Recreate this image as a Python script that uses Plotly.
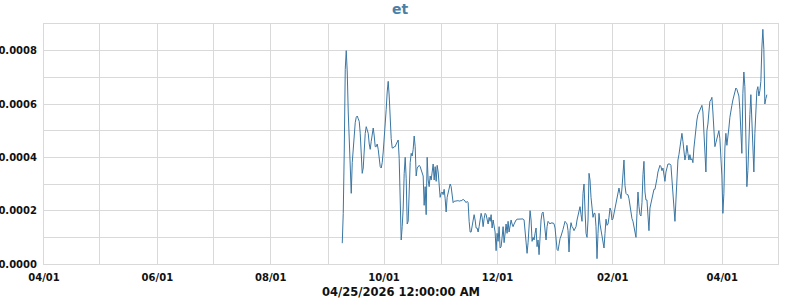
import pandas as pd
import plotly.graph_objects as go

# values in units of 1e-4, read left to right, one per ~13 hours
seg_sep = [0.78, 1.9, 4.2, 7.3, 8.0, 7.2, 5.7, 4.5, 3.6, 2.65, 3.8, 4.4, 4.9, 5.3, 5.5, 5.55,
           5.45, 5.35, 4.9, 4.2, 3.4, 3.6, 4.4, 4.9, 5.15, 5.0, 4.9, 4.5, 4.3, 4.6, 4.9, 5.1,
           4.8, 4.4, 4.4, 4.5, 4.3, 3.9, 3.65, 3.6, 3.8, 4.2, 4.7, 5.0, 5.8, 6.45, 6.85, 6.3,
           5.35, 4.7, 4.35, 4.35, 4.4, 4.4, 4.5, 4.6, 4.65, 3.95, 2.65, 0.9, 1.4, 2.1, 3.4,
           4.0, 3.2, 1.5]
seg_oct = [1.6, 3.0, 3.8, 4.15, 4.05, 4.3, 4.8, 4.4, 3.3, 3.6, 3.65, 3.7, 3.65, 3.5, 3.4, 3.3,
           2.2, 2.9, 1.85, 4.0, 3.15, 2.9, 3.3, 3.15, 3.45, 3.75, 3.15, 3.65, 3.1, 3.7, 3.45,
           3.0, 2.5, 2.65, 2.7, 2.6, 2.8, 2.45, 1.95, 2.5, 2.7, 2.9, 3.0, 2.9, 2.65, 2.3, 2.35,
           2.35, 2.35, 2.37, 2.38, 2.35, 2.38, 2.36, 2.4, 2.42, 2.4, 2.35, 2.3, 2.35, 2.3, 1.6,
           1.2, 1.2, 1.4, 1.65, 1.85, 1.65, 1.35, 1.35, 1.2, 1.4, 1.65]
seg_dec = [1.9, 1.75, 1.4, 1.7, 1.9, 1.85, 1.65, 1.5, 1.75, 1.6, 1.85, 1.35, 1.65, 1.4, 1.2,
           0.5, 1.15, 0.85, 1.4, 0.6, 0.65, 1.0, 1.4, 0.8, 1.25, 1.5, 1.15, 1.6, 1.2, 1.45,
           1.65, 1.5, 1.4, 1.5, 1.6, 1.65, 1.68, 1.68, 1.69, 1.69, 1.68, 1.68, 1.69, 1.65,
           1.25, 0.65, 0.4, 0.8, 1.75, 2.0, 1.65, 0.85, 1.0, 0.9, 1.15, 1.35, 0.65, 0.9, 0.35,
           1.15, 1.65, 1.9, 1.95, 1.65, 1.15, 0.9, 1.4, 1.6, 1.55, 1.5, 1.55, 1.52, 1.55]
seg_jan = [1.5, 1.35, 0.85, 0.55, 0.5, 0.85, 0.95, 1.05, 1.15, 1.3, 1.45, 1.6, 1.55, 1.5, 1.25,
           0.45, 1.25, 1.55, 1.4, 1.35, 1.25, 1.35, 1.4, 1.65, 1.85, 2.0, 2.15, 1.85, 1.6, 2.65,
           3.0, 2.0, 1.15, 1.0, 1.65, 3.4, 3.15, 2.5, 2.0, 1.75, 1.9, 1.9, 1.4, 0.2, 1.15, 1.9,
           1.5, 1.25, 1.15, 0.9, 0.6, 1.15, 1.68, 1.45, 1.5, 1.75, 2.1, 2.0, 1.65, 1.7, 1.9,
           2.0, 2.2, 2.4, 2.65, 2.85, 2.65, 2.45, 2.85, 3.45, 3.9, 2.95, 2.65]
seg_feb = [2.6, 2.6, 2.45, 2.2, 1.9, 1.7, 1.6, 1.4, 1.2, 1.0, 1.9, 2.7, 2.15, 1.85, 1.8, 2.3,
           3.35, 3.85, 2.7, 2.4, 2.4, 1.65, 1.25, 2.1, 2.3, 2.4, 2.6, 2.8, 2.8, 2.95, 3.2, 3.45,
           3.6, 3.7, 3.65, 3.5, 3.6, 3.3, 3.1, 3.45, 3.65, 3.75, 3.75, 3.75, 3.7, 3.2, 2.65,
           1.95, 1.6, 2.4, 3.45, 3.9, 4.1, 4.4, 4.7, 4.9, 4.6, 4.2, 3.9, 4.1, 4.45, 4.15, 3.9,
           4.1, 3.9, 3.95, 3.8, 4.35, 4.8, 5.15, 5.4, 5.6, 5.7]
seg_apr = [5.75, 5.9, 5.95, 5.7, 5.0, 4.0, 3.45, 5.0, 5.25, 5.7, 6.1, 6.15, 6.25, 5.7, 5.0,
           4.4, 4.55, 4.7, 4.85, 5.0, 4.7, 4.0, 3.3, 1.9, 2.65, 4.35, 4.9, 4.45, 4.7, 5.1, 5.5,
           5.85, 5.95, 6.15, 6.35, 6.45, 6.6, 6.55, 6.45, 6.3, 5.8, 4.9, 4.15, 6.4, 7.2, 6.65,
           4.5, 2.9, 3.5, 4.9, 5.6, 6.35, 5.5, 4.15, 3.45, 4.9, 6.1, 6.5, 6.65, 6.3, 6.5, 6.85,
           8.1, 8.8, 8.05, 6.0, 6.2, 6.35]

values_e4 = seg_sep + seg_oct + seg_dec + seg_jan + seg_feb + seg_apr
values = [v * 1e-4 for v in values_e4]
dates = pd.date_range(start="2025-09-08 12:00", end="2026-04-25 00:00", periods=len(values))

title_text = "et"
x_title = "04/25/2026 12:00:00 AM"
grid = "#d9d9d9"
line_color = "#3a76a3"

fig = go.Figure()
fig.add_trace(go.Scatter(x=dates, y=values, mode="lines",
                         line=dict(color=line_color, width=1), showlegend=False))

tick_font = dict(family="DejaVu Sans", size=10, color="#111111", weight="bold")

fig.update_layout(
    width=800, height=300,
    margin=dict(l=44, r=22, t=24, b=36),
    paper_bgcolor="white", plot_bgcolor="white",
    title=dict(text=title_text, x=0.5, xanchor="center", y=1 - 9 / 300, yanchor="middle",
               font=dict(family="DejaVu Sans", size=14, color="#4a7fa8", weight="bold")),
    annotations=[dict(text=x_title, xref="paper", yref="paper",
                      x=(400.5 - 44) / 734, y=(264 - 292) / 240,
                      xanchor="center", yanchor="middle", showarrow=False,
                      font=dict(family="DejaVu Sans", size=11.5, color="#111111",
                                weight="bold"))],
)
fig.update_xaxes(
    type="date", range=["2025-04-01", "2026-05-01"],
    tick0="2025-04-01", dtick="M2", tickformat="%m/%d",
    showgrid=True, gridcolor=grid, gridwidth=1,
    minor=dict(dtick="M1", showgrid=True, gridcolor=grid, gridwidth=1),
    showline=True, linecolor=grid, mirror=True, zeroline=False,
    ticks="", ticklabelstandoff=4, tickfont=tick_font,
    automargin=False,
)
fig.update_yaxes(
    range=[0, 0.0009], dtick=0.0002, tick0=0, tickformat=".4f",
    showgrid=True, gridcolor=grid, gridwidth=1,
    minor=dict(dtick=0.0001, showgrid=True, gridcolor=grid, gridwidth=1),
    showline=True, linecolor=grid, mirror=True, zeroline=False,
    ticks="", ticklabelstandoff=4, tickfont=tick_font, automargin=False,
)

fig.write_html("out.html")
